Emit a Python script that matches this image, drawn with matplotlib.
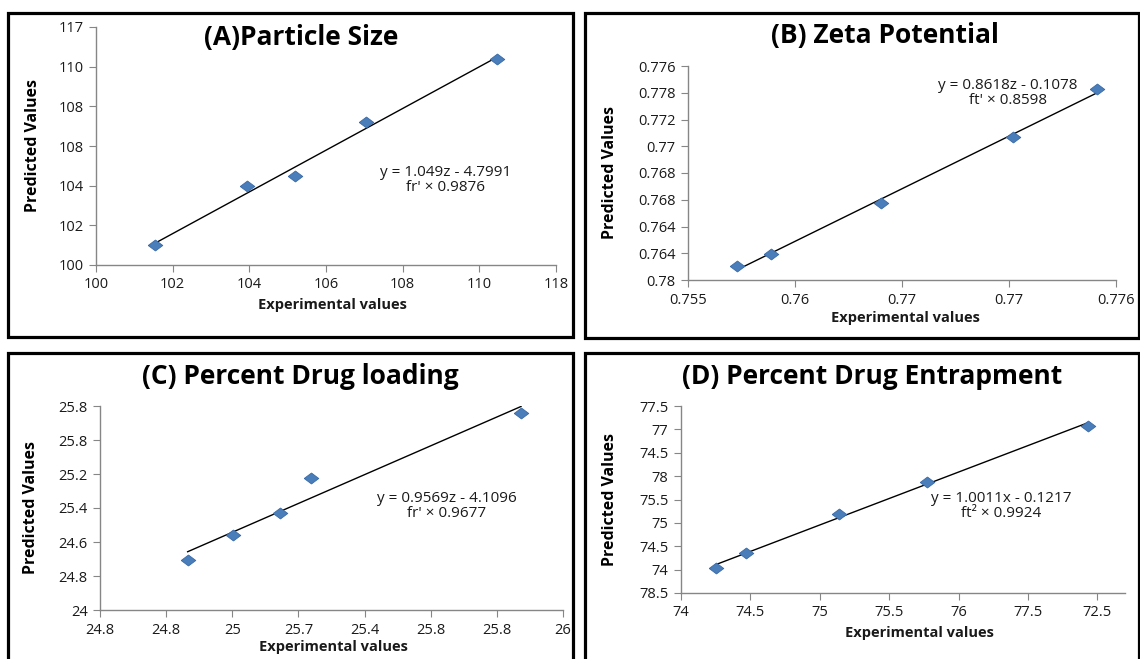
import numpy as np
import matplotlib
matplotlib.use('Agg')
import matplotlib.pyplot as plt
from matplotlib.patches import Rectangle

plt.rcParams['font.family'] = ['Open Sans', 'DejaVu Sans']

W, H = 1140, 659

# ---- data (A) Particle Size
a_exp = [101.55, 103.95, 105.2, 107.05, 110.45]
a_pred = [101.0, 104.0, 104.48, 107.2, 110.37]
a_yticks = [100, 102, 104, 106, 108, 110, 112]
a_ylabels = ['100', '102', '104', '108', '108', '110', '117']
a_xticks = [100, 102, 104, 106, 108, 110, 112]
a_xlabels = ['100', '102', '104', '106', '108', '110', '118']
a_eq = "y = 1.049z - 4.7991\nfr' \u00d7 0.9876"

# ---- data (B) Zeta Potential
b_exp = [0.7573, 0.7589, 0.7640, 0.7702, 0.7741]
b_pred = [0.76107, 0.76194, 0.76573, 0.77072, 0.77426]
b_yticks = [0.760, 0.762, 0.764, 0.766, 0.768, 0.770, 0.772, 0.774, 0.776]
b_ylabels = ['0.78', '0.764', '0.764', '0.768', '0.768', '0.77', '0.772', '0.778', '0.776']
b_xticks = [0.755, 0.760, 0.765, 0.770, 0.775]
b_xlabels = ['0.755', '0.76', '0.77', '0.77', '0.776']
b_eq = "y = 0.8618z - 0.1078\nft' \u00d7 0.8598"

# ---- data (C) Percent Drug loading
c_exp = [24.865, 25.001, 25.145, 25.238, 25.873]
c_pred = [24.294, 24.44, 24.568, 24.775, 25.16]
c_yticks = [24.0, 24.2, 24.4, 24.6, 24.8, 25.0, 25.2]
c_ylabels = ['24', '24.8', '24.6', '25.4', '25.2', '25.8', '25.8']
c_xticks = [24.6, 24.8, 25.0, 25.2, 25.4, 25.6, 25.8, 26.0]
c_xlabels = ['24.8', '24.8', '25', '25.7', '25.4', '25.8', '25.8', '26']
c_eq = "y = 0.9569z - 4.1096\nfr' \u00d7 0.9677"

# ---- data (D) Percent Drug Entrapment
d_exp = [74.25, 74.47, 75.14, 75.77, 76.93]
d_pred = [74.03, 74.35, 75.2, 75.88, 77.08]
d_yticks = [73.5, 74.0, 74.5, 75.0, 75.5, 76.0, 76.5, 77.0, 77.5]
d_ylabels = ['78.5', '74', '74.5', '75', '75.5', '78', '74.5', '77', '77.5']
d_xticks = [74.0, 74.5, 75.0, 75.5, 76.0, 76.5, 77.0]
d_xlabels = ['74', '74.5', '75', '75.5', '76', '77.5', '72.5']
d_eq = "y = 1.0011x - 0.1217\nft\u00b2 \u00d7 0.9924"

fig = plt.figure(figsize=(W / 100, H / 100), dpi=100)

# slightly flattened diamond like the excel marker
diamond = [(-1, 0), (0, 0.75), (1, 0), (0, -0.75), (-1, 0)]


def px_axes(l, t, r, b):
    return fig.add_axes([l / W, 1 - b / H, (r - l) / W, (b - t) / H])


def ftext(x, y, s, **kw):
    fig.text(x / W, 1 - y / H, s, ha='center', va='center', **kw)


# frames
for (l, t, r, b) in [(8, 13, 573, 337), (585, 13, 1139, 338),
                     (8, 353, 573, 700), (585, 353, 1139, 700)]:
    fig.patches.append(Rectangle((l / W, 1 - b / H), (r - l) / W, (b - t) / H,
                                 transform=fig.transFigure, fill=False,
                                 edgecolor='black', linewidth=2.3))


def panel(box, x, y, xt, xl, yt, yl, xlim, ylim, eq, eq_pos,
          title, title_pos, ylab_x, xlab_pos):
    ax = px_axes(*box)
    ax.scatter(x, y, marker=diamond, s=110, color='#4A7EBB', edgecolor='#3A6AA5',
               linewidth=0.6, zorder=3)
    k, c = np.polyfit(x, y, 1)
    xs = np.array([min(x), max(x)])
    ax.plot(xs, k * xs + c, color='black', linewidth=1.0, zorder=2)
    ax.set_xlim(*xlim)
    ax.set_ylim(*ylim)
    ax.set_xticks(xt)
    ax.set_xticklabels(xl)
    ax.set_yticks(yt)
    ax.set_yticklabels(yl)
    for s in ['top', 'right']:
        ax.spines[s].set_visible(False)
    for s in ['left', 'bottom']:
        ax.spines[s].set_color('#868686')
        ax.spines[s].set_linewidth(1.0)
    ax.tick_params(direction='out', length=5, color='#868686',
                   labelsize=10.5, labelcolor='#1a1a1a', pad=4)
    ftext(*eq_pos, eq, fontsize=11, color='#1a1a1a', linespacing=1.0)
    ftext(*title_pos, title, fontsize=19, fontweight='bold')
    ftext(ylab_x, (box[1] + box[3]) / 2, 'Predicted Values', fontsize=11.5,
          fontweight='bold', rotation=90)
    ftext(*xlab_pos, 'Experimental values', fontsize=10.5, fontweight='bold',
          color='#1a1a1a')
    return ax


panel((96, 27, 556, 265), a_exp, a_pred, a_xticks, a_xlabels, a_yticks, a_ylabels,
      (100, 112), (100, 112), a_eq, (446, 180),
      '(A)Particle Size', (301, 37), 33, (332, 305))

panel((688, 66, 1116, 280), b_exp, b_pred, b_xticks, b_xlabels, b_yticks, b_ylabels,
      (0.755, 0.775), (0.760, 0.776), b_eq, (1008, 93),
      '(B) Zeta Potential', (885, 36), 610, (905, 318))

panel((100, 406, 563, 610), c_exp, c_pred, c_xticks, c_xlabels, c_yticks, c_ylabels,
      (24.6, 26.0), (24.0, 25.2), c_eq, (447, 506),
      '(C) Percent Drug loading', (300, 376), 31, (333, 647))

panel((681, 406, 1125, 593), d_exp, d_pred, d_xticks, d_xlabels, d_yticks, d_ylabels,
      (74.0, 77.2), (73.5, 77.5), d_eq, (1001, 506),
      '(D) Percent Drug Entrapment', (872, 376), 610, (919, 633))

fig.savefig('out.png', dpi=100)
